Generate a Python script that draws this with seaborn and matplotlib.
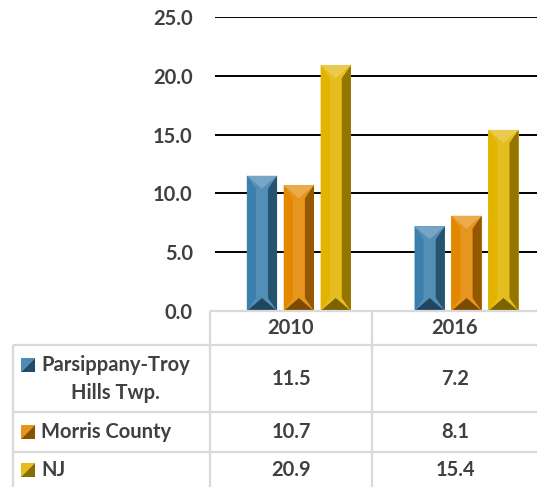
import numpy as np
import pandas as pd
import matplotlib
matplotlib.use("Agg")
import matplotlib.pyplot as plt
import seaborn as sns
from matplotlib.patches import Polygon

years = ["2010", "2016"]
areas = ["Parsippany-Troy Hills Twp.", "Morris County", "NJ"]
area_labels = ["Parsippany-Troy\nHills Twp.", "Morris County", "NJ"]
parsippany = [11.5, 7.2]
morris = [10.7, 8.1]
nj = [20.9, 15.4]
colors = ["#3b7fad", "#e38800", "#e2b400"]

df = pd.DataFrame({
    "year": years * 3,
    "area": np.repeat(areas, len(years)),
    "value": parsippany + morris + nj,
})

sns.set_style("white")
plt.rcParams["font.family"] = ["Lato", "DejaVu Sans"]
txt = "#404040"
fs = 14.5

W, H = 537, 487
fig = plt.figure(figsize=(W / 100, H / 100), dpi=100)
ax = fig.add_axes([215 / W, (H - 311) / H, 322 / W, 294 / H])
sns.barplot(data=df, x="year", y="value", hue="area", order=years, hue_order=areas,
            palette=colors, width=0.66, gap=0.18, saturation=1, legend=False, ax=ax)

ax.set_ylim(0, 25)
ax.set_xlim(-0.5, 1.42)
ax.set_yticks(np.arange(0, 26, 5))
ax.set_yticklabels([f"{v:.1f}" for v in np.arange(0, 26, 5)], fontweight="bold", color=txt, fontsize=fs)
ax.tick_params(axis="y", length=0, pad=16)
ax.set_xticks([])
ax.set_xlabel("")
ax.set_ylabel("")
ax.yaxis.grid(True, color="black", lw=1.4)
ax.set_axisbelow(True)
sns.despine(ax=ax, left=True, bottom=True)


def shade(c, f):
    c = np.array(matplotlib.colors.to_rgb(c))
    if f > 0:
        return tuple(c + (1 - c) * f)
    return tuple(c * (1 + f))


# bevel look for each bar
px_y = 25 / 294
for p in list(ax.patches):
    x0, w, h = p.get_x(), p.get_width(), p.get_height()
    c = p.get_facecolor()[:3]
    p.set_facecolor(shade(c, 0.12))
    p.set_edgecolor("none")
    d = 0.3 * w
    e = min(13 * px_y, h / 2)
    xc = x0 + w / 2
    ax.add_patch(Polygon([(x0, 0), (x0, h), (x0 + d, h - e), (x0 + d, e)], closed=True,
                         fc=shade(c, 0.0), ec="none", zorder=3))
    ax.add_patch(Polygon([(x0 + w, 0), (x0 + w, h), (x0 + w - d, h - e), (x0 + w - d, e)], closed=True,
                         fc=shade(c, -0.35), ec="none", zorder=3))
    ax.add_patch(Polygon([(x0, h), (x0 + w, h), (xc, h - e)], closed=True,
                         fc=shade(c, 0.3), ec="none", zorder=3))
    ax.add_patch(Polygon([(x0, 0), (x0 + w, 0), (xc, e)], closed=True,
                         fc=shade(c, -0.45), ec="none", zorder=3))

# data table below the chart
tab = fig.add_axes([0, 0, 1, 1], zorder=5)
tab.set_xlim(0, W)
tab.set_ylim(H, 0)
tab.axis("off")
tab.patch.set_alpha(0)

grid = "#d9d9d9"
tab.hlines(311, 210, W, color=grid, lw=1.6)
for y in [345, 412, 452]:
    tab.hlines(y, 13, W, color=grid, lw=1.6)
tab.vlines([210, 372], 311, H, color=grid, lw=1.6)
tab.vlines(13, 345, H, color=grid, lw=1.6)

col_x = [291, 455]
row_y = [379, 432, 470]
for cx, yr in zip(col_x, years):
    tab.text(cx, 328, yr, ha="center", va="center", fontweight="bold", color=txt, fontsize=fs)

series = [parsippany, morris, nj]
for ry, lab, vals, c in zip(row_y, area_labels, series, colors):
    for cx, v in zip(col_x, vals):
        tab.text(cx, ry, f"{v:.1f}", ha="center", va="center", fontweight="bold", color=txt, fontsize=fs)
    ky = ry - 14 if "\n" in lab else ry
    tab.text(41, ry, lab, ha="left", va="center", multialignment="center",
             fontweight="bold", color=txt, fontsize=fs, linespacing=1.45)
    k0, k1 = 21, 35
    tab.add_patch(Polygon([(k0, ky - 7), (k1, ky - 7), (k0, ky + 7)], closed=True, fc=shade(c, 0.1), ec="none"))
    tab.add_patch(Polygon([(k1, ky - 7), (k1, ky + 7), (k0, ky + 7)], closed=True, fc=shade(c, -0.4), ec="none"))

fig.savefig("out.png", dpi=100)
